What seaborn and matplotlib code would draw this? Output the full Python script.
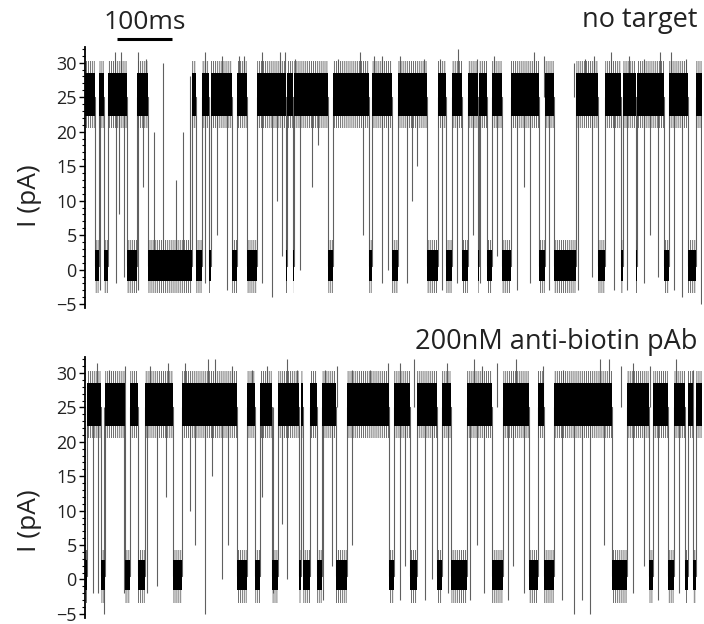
import matplotlib
matplotlib.use("Agg")
import matplotlib.pyplot as plt
import pandas as pd
import seaborn as sns
from matplotlib.ticker import MultipleLocator

sns.set_theme(style="ticks")
plt.rcParams["font.family"] = ["Open Sans", "DejaVu Sans"]
plt.rcParams["hatch.linewidth"] = 0.6

# ---- dwell segments (ms): boundaries and state of each interval (O = open, C = blocked)
top_bounds = [0, 18, 25, 35, 42, 76, 95, 114, 195, 201, 213, 225, 229, 267, 276, 295, 313,
              365, 367, 378, 380, 442, 450, 515, 522, 558, 568, 622, 642, 655, 667, 685,
              696, 713, 716, 731, 740, 757, 773, 824, 836, 851, 891, 931, 945, 973, 978,
              1000, 1003, 1051, 1060, 1095, 1109, 1120]
top_states = ["O", "C", "O", "C", "O", "C", "O", "C", "O", "C", "O", "C", "O", "C", "O",
              "C", "O", "C", "O", "C", "O", "C", "O", "C", "O", "C", "O", "C", "O", "C",
              "O", "C", "O", "C", "O", "C", "O", "C", "O", "C", "O", "C", "O", "C", "O",
              "C", "O", "C", "O", "C", "O", "C", "O"]

bot_bounds = [0, 3, 30, 36, 73, 82, 96, 109, 160, 176, 276, 295, 309, 318, 340, 350, 388,
              393, 396, 409, 422, 430, 456, 475, 553, 562, 590, 603, 640, 649, 665, 693,
              740, 760, 807, 822, 833, 851, 958, 985, 1025, 1031, 1058, 1069, 1089, 1095,
              1105, 1110, 1120]
bot_states = ["C", "O", "C", "O", "C", "O", "C", "O", "C", "O", "C", "O", "C", "O", "C",
              "O", "C", "O", "C", "O", "C", "O", "C", "O", "C", "O", "C", "O", "C", "O",
              "C", "O", "C", "O", "C", "O", "C", "O", "C", "O", "C", "O", "C", "O", "C",
              "O", "C", "O"]

# ---- brief downward excursions from the open level: time (ms), lowest current (pA)
top_dip_t = [28, 56, 62, 71, 97, 105, 218, 239, 258, 321, 340, 349, 358, 391, 412, 424,
             505, 539, 551, 585, 594, 603, 648, 676, 705, 718, 749, 785, 797, 809, 842,
             896, 921, 960, 985, 1015, 1027, 1040, 1069, 1085, 1118]
top_dip_low = [-3, -2, 8, -1, -3, 12, -2, 5, -3, -2, -4, 10, 2, 0, 12, 18, 5, -2, 0, -2,
               10, 15, -3, -2, 5, -2, 2, -3, 12, -2, -3, -3, -1, -3, -3, -2, 5, -1, -3,
               -4, -5]
bot_dip_t = [15, 24, 35, 71, 112, 130, 147, 191, 200, 218, 230, 249, 260, 321, 342, 358,
             367, 433, 449, 485, 573, 582, 618, 631, 660, 700, 712, 724, 769, 778, 797,
             867, 888, 903, 918, 942, 996, 1015, 1040, 1078]
bot_dip_low = [-2, -2, -5, -2, -2, -1, 12, 10, 5, -5, 15, 0, 5, 12, -2, 8, 0, -3, 2, 5,
               -3, 2, -3, 0, -2, -3, 5, -2, -3, 2, -2, -3, -5, -3, -5, 5, -2, 2, -3, -2]

# ---- upward noise peaks above the open band: time (ms), peak current (pA)
top_peak_t = [55, 65, 97, 110, 218, 248, 279, 288, 321, 355, 364, 382, 460, 500, 524,
              539, 573, 615, 645, 678, 712, 742, 815, 833, 888, 909, 924, 955, 988, 1015,
              1045, 1064, 1091]
top_peak_hi = [31.5, 31.5, 31.5, 30.5, 31.5, 31, 31, 31, 31.5, 31.5, 31.5, 30.5, 30.5,
               31.5, 31, 31, 31, 30.5, 30.5, 32, 30.5, 31, 31.5, 31, 30, 30.5, 31, 31.5,
               31, 30.5, 31.5, 31.5, 30.5]
bot_peak_t = [21, 44, 73, 118, 151, 182, 224, 236, 267, 303, 330, 367, 385, 436, 458,
              485, 518, 551, 573, 597, 658, 706, 721, 749, 782, 831, 869, 936, 951, 973,
              996, 1027, 1073, 1105]
bot_peak_hi = [31.5, 30.5, 31, 31, 31.5, 31.5, 32, 32, 31, 30.5, 31, 32, 30.5, 30.5, 31,
               30.5, 30.5, 31.5, 31.5, 32, 31.5, 32, 31, 31.5, 32, 31, 30.5, 32, 32, 31,
               31.5, 31, 32, 30.5]

# ---- brief upward excursions out of the long blockade (top trace)
top_rise_t = [125, 142, 165, 178, 190]
top_rise_hi = [20, 30, 13, 20, 28]

OPEN_PA, CLOSED_PA = 25.0, 0.5
OPEN_CORE, OPEN_FRINGE = (22.3, 28.5), (20.6, 30.3)
CLOSED_CORE, CLOSED_FRINGE = (-1.6, 2.9), (-3.4, 4.3)
TRACE_GREY = "#606060"


def trace_frame(bounds, states):
    rows = []
    for s, e, st in zip(bounds[:-1], bounds[1:], states):
        lvl = OPEN_PA if st == "O" else CLOSED_PA
        rows.append((s, lvl, st))
        rows.append((e, lvl, st))
    return pd.DataFrame(rows, columns=["t", "I", "state"])


def draw_trace(ax, bounds, states, dip_t, dip_low, peak_t, peak_hi):
    df = trace_frame(bounds, states)
    for s, e, st in zip(bounds[:-1], bounds[1:], states):
        core, fringe = (OPEN_CORE, OPEN_FRINGE) if st == "O" else (CLOSED_CORE, CLOSED_FRINGE)
        # noise envelope drawn as fine vertical hatching around the dense core
        ax.fill_between([s, e], fringe[0], fringe[1], facecolor="none",
                        edgecolor="#555555", hatch="||||||||", linewidth=0, zorder=2)
        ax.fill_between([s, e], core[0], core[1], color="black", lw=0, zorder=3)
    sns.lineplot(data=df, x="t", y="I", estimator=None, sort=False, color=TRACE_GREY,
                 lw=0.8, ax=ax, zorder=1)
    ax.vlines(dip_t, dip_low, OPEN_PA, color=TRACE_GREY, lw=0.8, zorder=1)
    ax.vlines(peak_t, OPEN_PA, peak_hi, color=TRACE_GREY, lw=0.8, zorder=1)


fig = plt.figure(figsize=(7.04, 6.24), dpi=100)
ax_top = fig.add_axes([0.1207, 0.506, 0.876, 0.419])
ax_bot = fig.add_axes([0.1207, 0.0096, 0.876, 0.418])

draw_trace(ax_top, top_bounds, top_states, top_dip_t, top_dip_low, top_peak_t, top_peak_hi)
ax_top.vlines(top_rise_t, CLOSED_PA, top_rise_hi, color=TRACE_GREY, lw=0.8, zorder=1)
draw_trace(ax_bot, bot_bounds, bot_states, bot_dip_t, bot_dip_low, bot_peak_t, bot_peak_hi)

for ax, ylab_y in ((ax_top, 0.43), (ax_bot, 0.375)):
    ax.set_xlim(0, 1120)
    ax.set_ylim(-5.6, 32.3)
    for side in ("top", "right", "bottom"):
        ax.spines[side].set_visible(False)
    ax.spines["left"].set_linewidth(1.3)
    ax.spines["left"].set_color("black")
    ax.spines["left"].set_zorder(5)
    ax.set_xticks([])
    ax.set_xlabel("")
    ax.set_yticks([-5, 0, 5, 10, 15, 20, 25, 30])
    ax.yaxis.set_minor_locator(MultipleLocator(1))
    ax.tick_params(axis="y", which="major", length=4, width=1, color="black",
                   labelsize=13, labelcolor="#222222", pad=2)
    ax.tick_params(axis="y", which="minor", length=2, width=0.8, color="black")
    ax.set_ylabel("I (pA)", fontsize=19, color="#222222")
    ax.yaxis.set_label_coords(-0.07, ylab_y)
    ax.set_facecolor("white")

# 100 ms scale bar above the first trace
ax_top.plot([58, 158], [33.4, 33.4], color="black", lw=2.2, clip_on=False,
            solid_capstyle="butt")
ax_top.text(108, 34.0, "100ms", ha="center", va="bottom", fontsize=19, color="#222222")

fig.text(697 / 704, 1 - 20 / 624, "no target", ha="right", va="center",
         fontsize=19.5, color="#222222")
fig.text(697 / 704, 1 - 342 / 624, "200nM anti-biotin pAb", ha="right", va="center",
         fontsize=19.5, color="#222222")

fig.savefig("out.png", dpi=100, facecolor="white")
